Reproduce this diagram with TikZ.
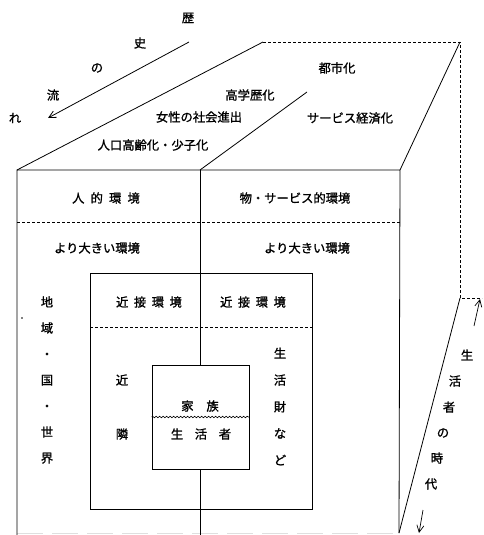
\documentclass[tikz,border=0pt]{standalone}
\usepackage{fontspec}
\setmainfont{Noto Sans CJK JP}[FakeBold=1.2]
\usetikzlibrary{decorations.pathmorphing,arrows.meta}
\begin{document}
\begin{tikzpicture}[x=1pt,y=-1pt,line width=0.8pt,
  lbl/.style={inner sep=0pt,font=\fontsize{12.3}{14}\selectfont},
  vlbl/.style={inner sep=0pt,align=center,font=\fontsize{12.3}{26}\selectfont},
  dsh/.style={dash pattern=on 3pt off 2pt},
  barb/.style={-{Straight Barb[length=7pt,width=7pt]}}]
\useasboundingbox (0,0) rectangle (483,535);
% cube corners
\coordinate (FTL) at (17,170);
\coordinate (FTM) at (200,170);
\coordinate (FTR) at (400,170);
\coordinate (FBL) at (17,535);
\coordinate (FBM) at (200,535);
\coordinate (FBR) at (399,533);
\coordinate (BTL) at (263,42);
\coordinate (BTR) at (460,42);
\coordinate (MT) at (307,92);
\coordinate (BR) at (460,298);
\coordinate (BRx) at (482,298);
\coordinate (DL) at (17,222);
\coordinate (DR) at (400,222);
\coordinate (BL1) at (17,533);
% faint bottom edge
\draw[gray!25,line width=1pt,dash pattern=on 26pt off 9pt] (BL1) -- (FBR);
% cube
\draw (FBL) -- (FTL) -- (FTR) -- (FBR);
\draw (FTL) -- (BTL);
\draw[dsh] (BTL) -- (BTR) -- (BR) -- (BRx);
\draw (FTR) -- (BTR);
\draw (FTM) -- (MT);
\draw (FBR) -- (BR);
\draw (FTM) -- (FBM);
\draw[dsh] (DL) -- (DR);
% inner box
\node[draw,minimum width=222pt,minimum height=236pt,inner sep=0pt] (near) at (201,391) {};
\coordinate (NL) at (90,327);
\coordinate (NR) at (312,327);
\draw[dsh] (NL) -- (NR);
% family box
\node[draw,fill=white,minimum width=97pt,minimum height=104pt,inner sep=0pt] (fam) at (200.5,417) {};
\draw[line width=0.6pt,decorate,decoration={snake,amplitude=0.8pt,segment length=3.5pt}] (fam.west) -- (fam.east);
% history arrow
\coordinate (HA1) at (189,42);
\coordinate (HA2) at (48,118);
\draw[barb] (HA1) -- (HA2);
% time arrows
\coordinate (UA1) at (474,326);
\coordinate (UA2) at (480,299);
\draw[barb,line width=0.7pt] (UA1) -- (UA2);
\coordinate (DA1) at (423,510);
\coordinate (DA2) at (419,533);
\draw[barb,line width=0.7pt] (DA1) -- (DA2);
% stray dot
\fill (22,318) circle (0.9pt);
% history text
\node[lbl] (h1) at (188,18) {歴};
\node[lbl] (h2) at (140,43) {史};
\node[lbl] (h3) at (97,68) {の};
\node[lbl] (h4) at (53,95) {流};
\node[lbl] (h5) at (15,118) {れ};
% top face labels
\node[lbl] (t1) at (337,68) {都市化};
\node[lbl] (t2) at (250,95) {高学歴化};
\node[lbl] (t3) at (199,117) {女性の社会進出};
\node[lbl] (t4) at (350,118) {サービス経済化};
\node[lbl] (t5) at (153,145) {人口高齢化・少子化};
% front labels
\node[lbl] (f1) at (106,198) {人\hspace{0.5em}的\hspace{0.5em}環\hspace{0.5em}境};
\node[lbl] (f2) at (295,198) {物・サービス的環境};
\node[lbl] (f3) at (97,248) {より大きい環境};
\node[lbl] (f4) at (307,248) {より大きい環境};
\node[lbl] (n1) at (149,302) {近\hspace{0.45em}接\hspace{0.45em}環\hspace{0.45em}境};
\node[lbl] (n2) at (253,302) {近\hspace{0.45em}接\hspace{0.45em}環\hspace{0.45em}境};
\node[vlbl] (v1) at (47,380) {地\\域\\・\\国\\・\\世\\界};
\node[lbl] (k1) at (122,380) {近};
\node[lbl] (k2) at (122,434) {隣};
\node[vlbl,font=\fontsize{12.3}{26.7}\selectfont] (v2) at (280,406.5) {生\\活\\財\\な\\ど};
\node[lbl] (fm1) at (200,406) {家\hspace{1.05em}族};
\node[lbl] (fm2) at (201,434) {生\hspace{0.95em}活\hspace{0.95em}者};
% time text
\node[lbl] (s1) at (467,355) {生};
\node[lbl] (s2) at (455,381) {活};
\node[lbl] (s3) at (449,407) {者};
\node[lbl] (s4) at (443,433) {の};
\node[lbl] (s5) at (437,458) {時};
\node[lbl] (s6) at (431,484) {代};
\end{tikzpicture}
\end{document}
